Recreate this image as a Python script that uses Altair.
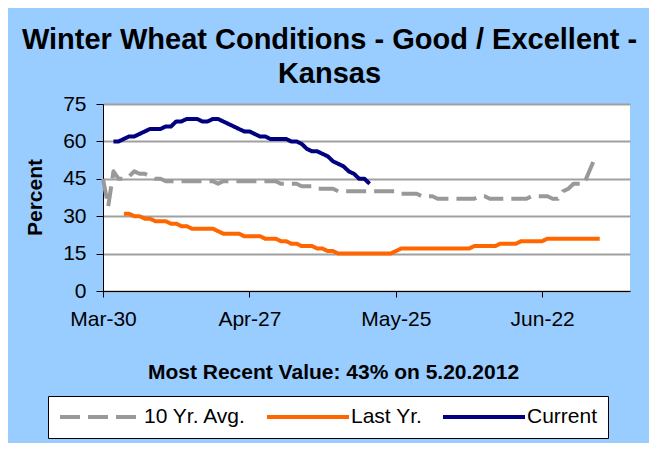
import altair as alt
import pandas as pd

# ---- data ----
series_names = ["10 Yr. Avg.", "Last Yr.", "Current"]
series_colors = ["#999999", "#FF6600", "#000080"]
series_dash = [[20, 8], [1, 0], [1, 0]]

# start dates of each daily series
avg_start = "2012-03-30"
last_start = "2012-04-03"
cur_start = "2012-04-01"

avg_values = [45, 34, 48, 45, 45, 46, 48, 47, 47, 46, 45, 45, 44,
              44, 44, 44, 44, 44, 44, 44, 44, 44,
              43,
              44, 44, 44, 44, 44, 44, 44, 44, 44, 44, 44,
              43, 43, 43, 43,
              42, 42, 42,
              41, 41, 41, 41,
              40, 40, 40, 40, 40, 40, 40, 40, 40, 40, 40, 40,
              39, 39, 39, 39,
              38, 38, 38,
              37, 37, 37, 37, 37, 37, 37, 37,
              38, 38,
              37, 37, 37, 37, 37, 37, 37, 37,
              38, 38, 38, 38,
              37, 37,
              40, 41, 43, 43, 43, 48, 53]

last_values = [31, 31, 30, 30, 29, 29, 28, 28, 28, 27, 27, 26, 26, 25, 25, 25, 25, 25,
               24, 23, 23, 23, 23, 22, 22, 22, 22, 21, 21, 21, 20, 20, 19, 19, 18, 18, 18,
               17, 17, 16, 16, 15,
               15, 15, 15, 15, 15, 15, 15, 15, 15, 15,
               16,
               17, 17, 17, 17, 17, 17, 17, 17, 17, 17, 17, 17, 17, 17,
               18, 18, 18, 18, 18,
               19, 19, 19, 19,
               20, 20, 20, 20, 20,
               21, 21, 21, 21, 21, 21, 21, 21, 21, 21, 21]

cur_values = [60, 60, 61, 62, 62, 63, 64, 65, 65, 65, 66, 66, 68, 68, 69, 69, 69, 68, 68, 69, 69, 68,
              67, 66, 65, 64, 64, 63, 62, 62, 61, 61, 61, 61, 60, 60, 59, 57, 56, 56, 55, 54,
              52, 51, 50, 48, 47, 45, 45, 43]

y_ticks = [0, 15, 30, 45, 60, 75]
x_tick_dates = ["2012-03-30", "2012-04-27", "2012-05-25", "2012-06-22"]

title_lines = ["Winter Wheat Conditions - Good / Excellent -", "Kansas"]
subtitle_text = "Most Recent Value: 43% on 5.20.2012"

# ---- build table ----
frames = []
for name, start, vals in [(series_names[0], avg_start, avg_values),
                          (series_names[1], last_start, last_values),
                          (series_names[2], cur_start, cur_values)]:
    d = pd.DataFrame({"date": pd.date_range(start, periods=len(vals), freq="D"),
                      "value": vals})
    d["series"] = name
    d["order"] = range(len(vals))
    frames.append(d)
df = pd.concat(frames, ignore_index=True)
df["date"] = df["date"].dt.strftime("%Y-%m-%dT%H:%M:%S")

FONT = "Liberation Sans"

def dt(s, hours=0):
    y, m, d = [int(p) for p in s.split("-")]
    return alt.DateTime(year=y, month=m, date=d, hours=hours)

x_enc = alt.X("date:T",
              scale=alt.Scale(domain=[dt("2012-03-30"), dt("2012-07-08", 19)]),
              axis=alt.Axis(values=[dt(s) for s in x_tick_dates], format="%b-%d",
                            grid=False, domainColor="black", domainWidth=1,
                            tickColor="black", tickSize=6, labelFontSize=21,
                            labelFont=FONT, labelColor="black", labelPadding=11,
                            title=subtitle_text, titleFont=FONT, titleFontSize=21,
                            titleFontWeight="bold", titleColor="black",
                            titleX=230, titleY=87, titleAlign="center",
                            titleBaseline="alphabetic", labelFlush=False))
y_enc = alt.Y("value:Q",
              scale=alt.Scale(domain=[0, 75], nice=False, zero=True),
              axis=alt.Axis(values=y_ticks, grid=True, gridColor="#a0a0a0",
                            gridWidth=2, domainColor="black", domainWidth=1,
                            tickColor="black", tickSize=7, labelFontSize=21,
                            labelFont=FONT, labelColor="black", labelPadding=10,
                            title="Percent", titleFont=FONT, titleFontSize=21,
                            titleFontWeight="bold", titleColor="black",
                            titleAngle=270, titleX=-68, titleY=93,
                            titleAlign="center", titleBaseline="middle"))

chart = alt.Chart(df).mark_line(strokeWidth=4, strokeCap="butt", strokeJoin="round").encode(
    x=x_enc,
    y=y_enc,
    order="order:Q",
    color=alt.Color("series:N",
                    scale=alt.Scale(domain=series_names, range=series_colors),
                    legend=alt.Legend(title=None, orient="none", legendX=-55, legendY=292,
                                      direction="horizontal", symbolType="stroke",
                                      symbolSize=6724, symbolStrokeWidth=4,
                                      clipHeight=22, labelFontSize=21, labelFont=FONT,
                                      labelColor="black", labelOffset=0,
                                      columnPadding=18, padding=10,
                                      fillColor="white", strokeColor="black")),
    strokeDash=alt.StrokeDash("series:N",
                              scale=alt.Scale(domain=series_names, range=series_dash),
                              legend=None),
).properties(
    width=527,
    height=187,
    padding={"left": 95, "top": 96, "right": 19, "bottom": 152},
    autosize=alt.AutoSizeParams(type="none"),
    background="#99CCFF",
    title=alt.TitleParams(text=title_lines, fontSize=29, fontWeight="bold",
                          font=FONT, color="black", anchor="middle", frame="group",
                          dx=-37, lineHeight=34, offset=4),
).configure_view(
    fill="white", stroke=None
)

chart.save("out.html", embed_options={"renderer": "svg", "actions": False})
